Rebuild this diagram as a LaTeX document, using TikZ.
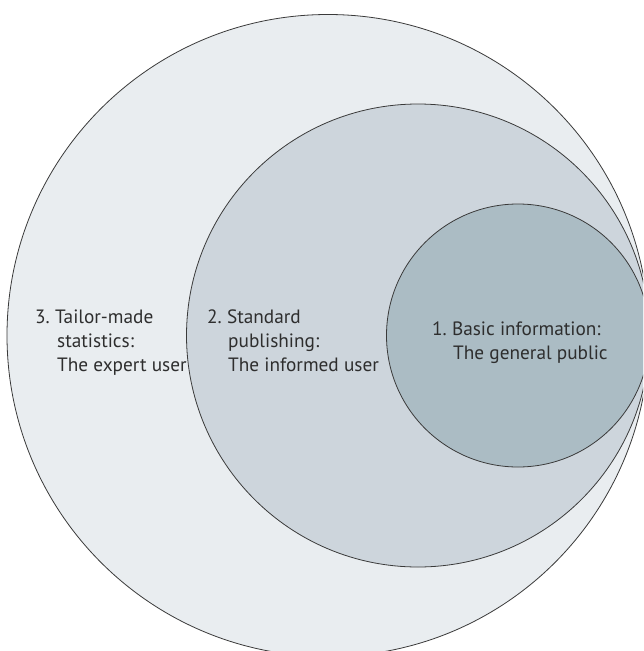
\documentclass[tikz,border=0pt]{standalone}
\usepackage{fontspec}
\setmainfont{PT Sans}
\definecolor{outerc}{HTML}{E9EDF0}
\definecolor{midc}{HTML}{CDD5DC}
\definecolor{innerc}{HTML}{ABBCC4}
\definecolor{linec}{HTML}{3A3A3A}
\definecolor{textc}{HTML}{2E2E2E}
\begin{document}
\begin{tikzpicture}[x=1pt,y=-1pt,
  ring/.style={draw=linec,line width=0.8pt},
  lbl/.style={anchor=base west,align=left,text=textc,inner sep=0pt,
    font=\fontsize{19.3}{24}\selectfont}]
\useasboundingbox (0,0) rectangle (643,651);
\clip (0,0) rectangle (643,651);
\fill[white] (0,0) rectangle (643,651);
\draw[ring,fill=outerc] (328,335.5) circle[radius=321];
\draw[ring,fill=midc] (418,335.5) circle[radius=231.5];
\draw[ring,fill=innerc] (518,335.5) circle[radius=131.5];
\node[lbl] (t3) at (35,371) {3.~Tailor-made\\\hspace*{22pt}statistics:\\\hspace*{22pt}The expert user};
\node[lbl] (t2) at (207,371) {2.~Standard\\\hspace*{21pt}publishing:\\\hspace*{21pt}The informed user};
\node[lbl] (t1) at (432,359) {1.~Basic information:\\\hspace*{21pt}The general public};
\end{tikzpicture}
\end{document}
